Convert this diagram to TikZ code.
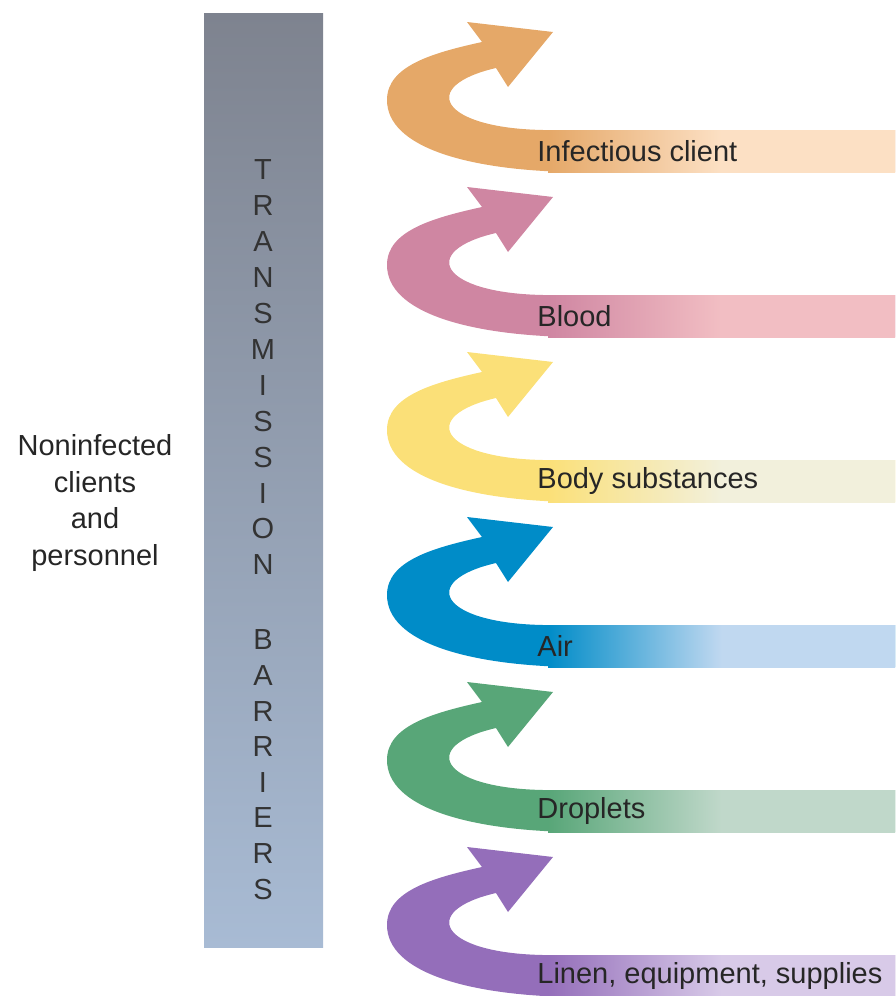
\documentclass[tikz,border=0pt]{standalone}
\usepackage{xcolor}
\usepackage{fontspec}
\setmainfont{Liberation Sans}
\usepackage{tikz}
\usetikzlibrary{positioning}

\definecolor{barTop}{RGB}{126,131,143}
\definecolor{barBot}{RGB}{168,187,212}
\definecolor{orA}{RGB}{229,168,104}
\definecolor{orB}{RGB}{252,224,196}
\definecolor{piA}{RGB}{207,134,162}
\definecolor{piB}{RGB}{242,190,195}
\definecolor{yeA}{RGB}{251,224,120}
\definecolor{yeB}{RGB}{242,240,220}
\definecolor{blA}{RGB}{0,140,200}
\definecolor{blB}{RGB}{192,216,240}
\definecolor{grA}{RGB}{88,166,120}
\definecolor{grB}{RGB}{192,216,202}
\definecolor{puA}{RGB}{148,110,186}
\definecolor{puB}{RGB}{216,202,232}

\tikzset{
  lbl/.style={anchor=west, inner sep=0pt, text=black!85,
    font=\fontsize{14.5}{17}\selectfont},
  ltr/.style={inner sep=0pt, text=black!80,
    font=\fontsize{14.5}{17}\selectfont},
  side/.style={align=center, inner sep=0pt, text=black!85,
    font=\fontsize{14.5}{18.3}\selectfont},
}

\begin{document}
\begin{tikzpicture}[x=0.5pt, y=-0.5pt]
    \useasboundingbox (0,0) rectangle (895,996);

    % Barrier column
    \shade[top color=barTop, bottom color=barBot] (204,13) rectangle (323,947);
    \foreach \ch [count=\n from 0] in {T,R,A,N,S,M,I,S,S,I,O,N}
        \node[ltr] (ta\n) at (263,170+35.9*\n) {\ch};
    \foreach \ch [count=\n from 0] in {B,A,R,R,I,E,R,S}
        \node[ltr] (ba\n) at (263,640+35.6*\n) {\ch};

    % Left label
    \node[side] (clients) at (95,503) {Noninfected\\clients\\and\\personnel};

    % Curled arrows
    \foreach \k/\dk/\lt/\txt in {0/orA/orB/Infectious client, 1/piA/piB/Blood,
        2/yeA/yeB/Body substances, 3/blA/blB/Air, 4/grA/grB/Droplets,
        5/puA/puB/{Linen, equipment, supplies}}
    {
        \begin{scope}[shift={(0,165*\k)}]
            \fill[\dk] (553,32) -- (508,87) -- (496,68)
                .. controls (418,86) and (440,128) .. (543,130)
                -- (895,130) -- (895,172) -- (570,172)
                .. controls (470,170) and (387,148) .. (387,100)
                .. controls (387,66) and (432,53) .. (482,42)
                -- (467,22) -- cycle;
            \shade[left color=\dk, right color=\lt, middle color=\lt]
                (548,130) rectangle (895,172);
            \node[lbl] (src\k) at (537,151) {\txt};
        \end{scope}
    }
\end{tikzpicture}
\end{document}
